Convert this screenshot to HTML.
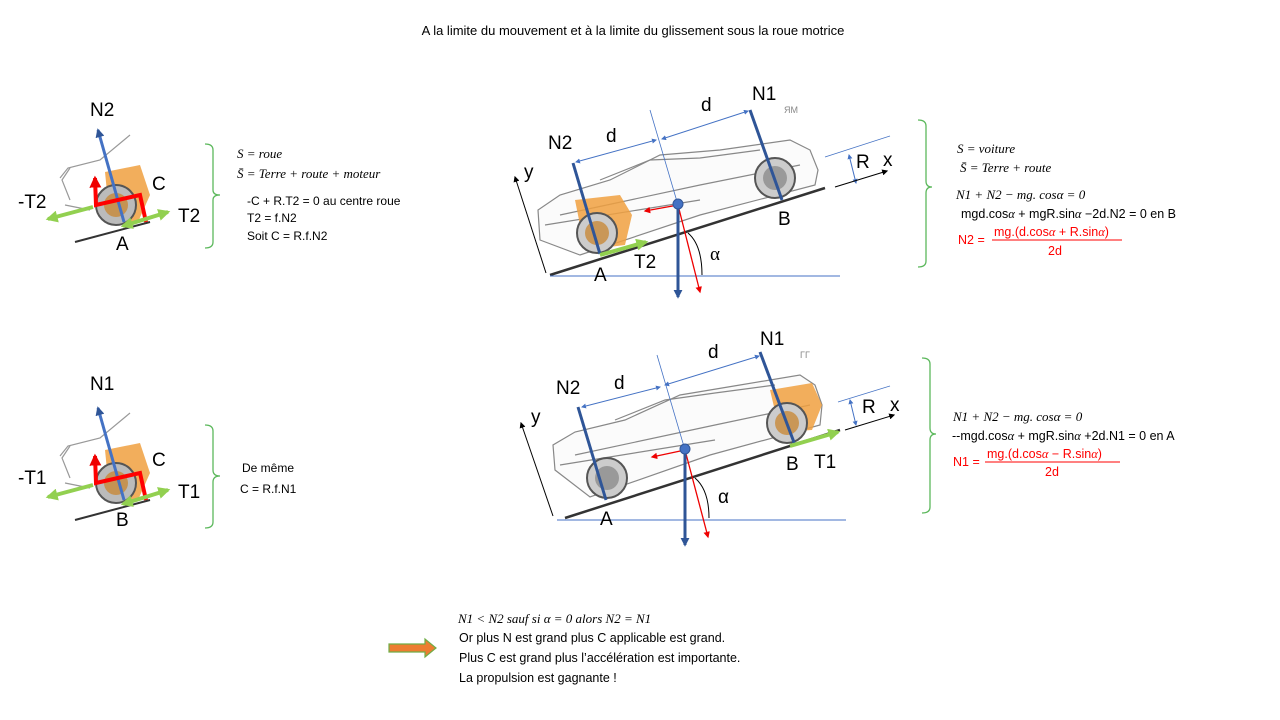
<!DOCTYPE html>
<html><head><meta charset="utf-8"><style>
body{margin:0;background:#fff;width:1280px;height:720px;overflow:hidden}
svg{display:block}
.s{font-family:"Liberation Sans",sans-serif}
.m{font-family:"Liberation Serif",serif;font-style:italic}
</style></head><body>
<svg width="1280" height="720" viewBox="0 0 1280 720" xmlns="http://www.w3.org/2000/svg">
<defs>
<marker id="ab" viewBox="0 0 10 10" refX="8" refY="5" markerWidth="5" markerHeight="5" orient="auto-start-reverse"><path d="M0,0L10,5L0,10z" fill="#4472c4"/></marker>
<marker id="ar" viewBox="0 0 10 10" refX="8" refY="5" markerWidth="5" markerHeight="5" orient="auto"><path d="M0,0L10,5L0,10z" fill="#e00"/></marker>
<marker id="ak" viewBox="0 0 10 10" refX="8" refY="5" markerWidth="6" markerHeight="6" orient="auto"><path d="M0,0L10,5L0,10z" fill="#000"/></marker>
<marker id="ag" viewBox="0 0 10 10" refX="8" refY="5" markerWidth="3" markerHeight="3" orient="auto-start-reverse"><path d="M0,0L10,5L0,10z" fill="#92d050"/></marker>
<marker id="an" viewBox="0 0 10 10" refX="8" refY="5" markerWidth="3" markerHeight="3" orient="auto"><path d="M0,0L10,5L0,10z" fill="#2f5597"/></marker>
<marker id="anr" viewBox="0 0 10 10" refX="8" refY="5" markerWidth="3" markerHeight="3" orient="auto"><path d="M0,0L10,5L0,10z" fill="#e00"/></marker>
</defs>
<text x="633" y="35" class="s" font-size="13" text-anchor="middle">A la limite du mouvement  et à la limite du glissement sous la roue motrice</text>

<!-- top-left small -->
<g id="tl">
<path d="M60,178 L68,168 L100,160 L130,135 M70,200 L62,180 L70,168 M65,205 L90,210" fill="none" stroke="#999" stroke-width="1.2"/>
<path d="M105,172 L140,165 L150,195 L138,222 L110,222 Z" fill="#f0a040" opacity="0.85"/>
<circle cx="116" cy="205" r="20" fill="#bbb" stroke="#555" stroke-width="2"/>
<circle cx="116" cy="205" r="12" fill="#c8893a" opacity="0.8"/>
<line x1="75" y1="242" x2="150" y2="222" stroke="#333" stroke-width="2"/>
<line x1="124" y1="222" x2="98" y2="130" stroke="#4472c4" stroke-width="3" marker-end="url(#an)"/>
<path d="M146,222 L140,195 L96,205 L95,178" fill="none" stroke="#f00" stroke-width="4" marker-end="url(#anr)"/>
<line x1="93" y1="207" x2="48" y2="219" stroke="#92d050" stroke-width="4" marker-end="url(#ag)"/>
<line x1="123" y1="226" x2="168" y2="212" stroke="#92d050" stroke-width="4" marker-end="url(#ag)" marker-start="url(#ag)"/>
</g>
<text x="90" y="116" class="s" font-size="19">N2</text>
<text x="152" y="190" class="s" font-size="19">C</text>
<text x="18" y="208" class="s" font-size="19">-T2</text>
<text x="178" y="222" class="s" font-size="19">T2</text>
<text x="116" y="250" class="s" font-size="19">A</text>
<path d="M205,144 Q213,144 213,150 L213,190 Q213,195 220,195 Q213,195 213,200 L213,242 Q213,248 205,248" fill="none" stroke="#5cb85c" stroke-width="1.3"/>
<text x="237" y="158" class="m" font-size="13">S = roue</text>
<text x="237" y="178" class="m" font-size="13">S̄ = Terre + route + moteur</text>
<text x="247" y="205" class="s" font-size="12">-C + R.T2 = 0  au centre roue</text>
<text x="247" y="222" class="s" font-size="12">T2 = f.N2</text>
<text x="247" y="240" class="s" font-size="12">Soit C = R.f.N2</text>

<!-- bottom-left small -->
<g transform="translate(0,278)">
<path d="M60,178 L68,168 L100,160 L130,135 M70,200 L62,180 L70,168 M65,205 L90,210" fill="none" stroke="#999" stroke-width="1.2"/>
<path d="M105,172 L140,165 L150,195 L138,222 L110,222 Z" fill="#f0a040" opacity="0.85"/>
<circle cx="116" cy="205" r="20" fill="#bbb" stroke="#555" stroke-width="2"/>
<circle cx="116" cy="205" r="12" fill="#c8893a" opacity="0.8"/>
<line x1="75" y1="242" x2="150" y2="222" stroke="#333" stroke-width="2"/>
<line x1="124" y1="222" x2="98" y2="130" stroke="#4472c4" stroke-width="3" marker-end="url(#an)"/>
<path d="M146,222 L140,195 L96,205 L95,178" fill="none" stroke="#f00" stroke-width="4" marker-end="url(#anr)"/>
<line x1="93" y1="207" x2="48" y2="219" stroke="#92d050" stroke-width="4" marker-end="url(#ag)"/>
<line x1="123" y1="226" x2="168" y2="212" stroke="#92d050" stroke-width="4" marker-end="url(#ag)" marker-start="url(#ag)"/>
</g>
<text x="90" y="390" class="s" font-size="19">N1</text>
<text x="152" y="466" class="s" font-size="19">C</text>
<text x="18" y="484" class="s" font-size="19">-T1</text>
<text x="178" y="498" class="s" font-size="19">T1</text>
<text x="116" y="526" class="s" font-size="19">B</text>
<path d="M205,425 Q213,425 213,431 L213,470 Q213,476 220,476 Q213,476 213,482 L213,522 Q213,528 205,528" fill="none" stroke="#5cb85c" stroke-width="1.3"/>
<text x="242" y="472" class="s" font-size="12">De même</text>
<text x="240" y="493" class="s" font-size="12">C = R.f.N1</text>

<!-- top car -->
<g fill="none" stroke="#888" stroke-width="1.2">
<path d="M540,240 L538,210 L560,195 L610,180 L660,155 L720,150 L790,140 L810,150 L818,170 L815,185 L700,215 L580,255 Z" fill="#fbfbfb"/>
<path d="M600,180 L650,160 L700,158 L760,150 M560,215 L700,185 L800,165 M545,225 L700,200"/>
</g>
<path d="M575,200 L620,195 L632,215 L625,245 L585,250 Z" fill="#f0a040" opacity="0.85"/>
<circle cx="597" cy="233" r="20" fill="#ccc" stroke="#555" stroke-width="2"/>
<circle cx="597" cy="233" r="12" fill="#c8893a" opacity="0.8"/>
<circle cx="775" cy="178" r="20" fill="#ccc" stroke="#555" stroke-width="2"/>
<circle cx="775" cy="178" r="12" fill="#999"/>
<line x1="550" y1="275" x2="825" y2="188" stroke="#333" stroke-width="2.5"/>
<line x1="550" y1="276" x2="840" y2="276" stroke="#4472c4" stroke-width="1"/>
<line x1="546" y1="273" x2="515" y2="177" stroke="#000" stroke-width="1" marker-end="url(#ak)"/>
<line x1="650" y1="110" x2="678" y2="205" stroke="#4472c4" stroke-width="0.8"/>
<line x1="576" y1="162" x2="656" y2="140" stroke="#4472c4" stroke-width="1" marker-end="url(#ab)" marker-start="url(#ab)"/>
<line x1="662" y1="139" x2="748" y2="111" stroke="#4472c4" stroke-width="1" marker-end="url(#ab)" marker-start="url(#ab)"/>
<line x1="600" y1="254" x2="573" y2="163" stroke="#2f5597" stroke-width="3"/>
<line x1="782" y1="200" x2="750" y2="110" stroke="#2f5597" stroke-width="3"/>
<line x1="600" y1="255" x2="646" y2="242" stroke="#92d050" stroke-width="4" marker-end="url(#ag)"/>
<line x1="678" y1="205" x2="645" y2="211" stroke="#e00" stroke-width="1.3" marker-end="url(#ar)"/>
<line x1="678" y1="205" x2="700" y2="292" stroke="#e00" stroke-width="1.3" marker-end="url(#ar)"/>
<line x1="678" y1="205" x2="678" y2="297" stroke="#2f5597" stroke-width="3" marker-end="url(#an)"/>
<circle cx="678" cy="204" r="5" fill="#4472c4" stroke="#2f5597"/>
<path d="M688,233 Q702,245 702,275" fill="none" stroke="#000" stroke-width="1"/>
<line x1="825" y1="157" x2="890" y2="136" stroke="#4472c4" stroke-width="0.8"/>
<line x1="849" y1="155" x2="856" y2="183" stroke="#4472c4" stroke-width="1" marker-end="url(#ab)" marker-start="url(#ab)"/>
<line x1="835" y1="187" x2="887" y2="171" stroke="#000" stroke-width="1" marker-end="url(#ak)"/>
<text x="548" y="149" class="s" font-size="19">N2</text>
<text x="606" y="142" class="s" font-size="19">d</text>
<text x="701" y="111" class="s" font-size="19">d</text>
<text x="752" y="100" class="s" font-size="19">N1</text>
<text x="784" y="113" class="s" font-size="9" fill="#888">ЯM</text>
<text x="524" y="178" class="s" font-size="19">y</text>
<text x="856" y="168" class="s" font-size="19">R</text>
<text x="883" y="166" class="s" font-size="19">x</text>
<text x="778" y="225" class="s" font-size="19">B</text>
<text x="594" y="281" class="s" font-size="19">A</text>
<text x="634" y="268" class="s" font-size="19">T2</text>
<text x="710" y="260" class="m" font-size="19" style="font-style:normal">α</text>

<!-- bottom car -->
<g fill="none" stroke="#888" stroke-width="1.2">
<path d="M555,470 L553,445 L575,432 L625,420 L680,395 L740,385 L800,375 L815,385 L822,405 L820,425 L710,455 L590,497 Z" fill="#fbfbfb"/>
<path d="M615,420 L665,400 L715,393 L775,385 M575,455 L715,425 L810,405 M560,465 L715,440"/>
</g>
<path d="M770,390 L812,383 L822,405 L812,430 L780,432 Z" fill="#f0a040" opacity="0.85"/>
<circle cx="607" cy="478" r="20" fill="#ccc" stroke="#555" stroke-width="2"/>
<circle cx="607" cy="478" r="12" fill="#999"/>
<circle cx="787" cy="423" r="20" fill="#ccc" stroke="#555" stroke-width="2"/>
<circle cx="787" cy="423" r="12" fill="#c8893a" opacity="0.8"/>
<line x1="565" y1="518" x2="840" y2="430" stroke="#333" stroke-width="2.5"/>
<line x1="557" y1="520" x2="846" y2="520" stroke="#4472c4" stroke-width="1"/>
<line x1="553" y1="516" x2="521" y2="423" stroke="#000" stroke-width="1" marker-end="url(#ak)"/>
<line x1="657" y1="355" x2="685" y2="450" stroke="#4472c4" stroke-width="0.8"/>
<line x1="582" y1="407" x2="660" y2="387" stroke="#4472c4" stroke-width="1" marker-end="url(#ab)" marker-start="url(#ab)"/>
<line x1="665" y1="385" x2="759" y2="356" stroke="#4472c4" stroke-width="1" marker-end="url(#ab)" marker-start="url(#ab)"/>
<line x1="606" y1="500" x2="578" y2="407" stroke="#2f5597" stroke-width="3"/>
<line x1="795" y1="445" x2="760" y2="352" stroke="#2f5597" stroke-width="3"/>
<line x1="790" y1="446" x2="838" y2="432" stroke="#92d050" stroke-width="4" marker-end="url(#ag)"/>
<line x1="685" y1="450" x2="652" y2="457" stroke="#e00" stroke-width="1.3" marker-end="url(#ar)"/>
<line x1="685" y1="450" x2="708" y2="537" stroke="#e00" stroke-width="1.3" marker-end="url(#ar)"/>
<line x1="685" y1="450" x2="685" y2="545" stroke="#2f5597" stroke-width="3" marker-end="url(#an)"/>
<circle cx="685" cy="449" r="5" fill="#4472c4" stroke="#2f5597"/>
<path d="M695,478 Q709,490 709,518" fill="none" stroke="#000" stroke-width="1"/>
<line x1="838" y1="402" x2="890" y2="386" stroke="#4472c4" stroke-width="0.8"/>
<line x1="850" y1="400" x2="856" y2="425" stroke="#4472c4" stroke-width="1" marker-end="url(#ab)" marker-start="url(#ab)"/>
<line x1="845" y1="430" x2="894" y2="415" stroke="#000" stroke-width="1" marker-end="url(#ak)"/>
<text x="556" y="394" class="s" font-size="19">N2</text>
<text x="614" y="389" class="s" font-size="19">d</text>
<text x="708" y="358" class="s" font-size="19">d</text>
<text x="760" y="345" class="s" font-size="19">N1</text>
<text x="800" y="358" class="s" font-size="9" fill="#888">ΓΓ</text>
<text x="531" y="423" class="s" font-size="19">y</text>
<text x="862" y="413" class="s" font-size="19">R</text>
<text x="890" y="411" class="s" font-size="19">x</text>
<text x="786" y="470" class="s" font-size="19">B</text>
<text x="814" y="468" class="s" font-size="19">T1</text>
<text x="600" y="525" class="s" font-size="19">A</text>
<text x="718" y="503" class="s" font-size="19">α</text>

<!-- right text -->
<path d="M918,120 Q926,120 926,126 L926,181 Q926,187 932,187 Q926,187 926,193 L926,261 Q926,267 918,267" fill="none" stroke="#5cb85c" stroke-width="1.3"/>
<text x="957" y="153" class="m" font-size="13">S = voiture</text>
<text x="960" y="172" class="m" font-size="13">S̄ = Terre + route</text>
<text x="956" y="199" class="m" font-size="13">N1 + N2 − mg. cosα = 0</text>
<text x="961" y="218" class="s" font-size="12.5">mgd.cos<tspan class="m">α</tspan> + mgR.sin<tspan class="m">α</tspan> −2d.N2 = 0     en B</text>
<text x="958" y="244" class="s" font-size="12.5" fill="#f00">N2 =</text>
<line x1="992" y1="240" x2="1122" y2="240" stroke="#f00" stroke-width="1"/>
<text x="994" y="236" class="s" font-size="12.5" fill="#f00">mg.(d.cos<tspan class="m">α</tspan> + R.sin<tspan class="m">α</tspan>)</text>
<text x="1048" y="255" class="s" font-size="12.5" fill="#f00">2d</text>

<path d="M922,358 Q930,358 930,364 L930,428 Q930,434 936,434 Q930,434 930,440 L930,507 Q930,513 922,513" fill="none" stroke="#5cb85c" stroke-width="1.3"/>
<text x="953" y="421" class="m" font-size="13">N1 + N2 − mg. cosα = 0</text>
<text x="952" y="440" class="s" font-size="12.5">--mgd.cos<tspan class="m">α</tspan> + mgR.sin<tspan class="m">α</tspan> +2d.N1 = 0     en A</text>
<text x="953" y="466" class="s" font-size="12.5" fill="#f00">N1 =</text>
<line x1="985" y1="462" x2="1120" y2="462" stroke="#f00" stroke-width="1"/>
<text x="987" y="458" class="s" font-size="12.5" fill="#f00">mg.(d.cos<tspan class="m">α</tspan> − R.sin<tspan class="m">α</tspan>)</text>
<text x="1045" y="476" class="s" font-size="12.5" fill="#f00">2d</text>

<!-- bottom text -->
<path d="M389,644 L425,644 L425,639 L436,648 L425,657 L425,652 L389,652 Z" fill="#ed7d31" stroke="#70ad47" stroke-width="1.2"/>
<text x="458" y="623" class="m" font-size="13">N1 &lt; N2 sauf si α = 0 alors N2 = N1</text>
<text x="459" y="642" class="s" font-size="12.5">Or plus N est grand plus C applicable est grand.</text>
<text x="459" y="662" class="s" font-size="12.5">Plus C est grand plus l’accélération est importante.</text>
<text x="459" y="682" class="s" font-size="12.5">La propulsion est gagnante !</text>
</svg>
</body></html>
